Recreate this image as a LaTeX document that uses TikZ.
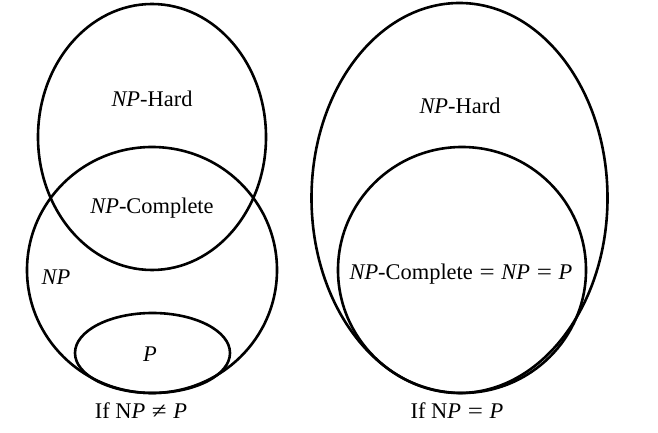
\documentclass[tikz,border=0pt]{standalone}
\usepackage{fontspec}
\setmainfont{Liberation Serif}
\newcommand{\releq}[1]{\hspace{0.3em}\scalebox{1.2}[1]{#1}\hspace{0.3em}}
\begin{document}
\begin{tikzpicture}[x=1bp,y=-1bp,
  ring/.style={draw, line width=2.6bp},
  lbl/.style={font=\fontsize{22.5}{26}\selectfont, inner sep=0pt}]
\useasboundingbox (0,0) rectangle (658,433);
% left diagram
\draw[ring] (152,137) ellipse [x radius=114bp, y radius=133bp];
\draw[ring] (152,270) ellipse [x radius=125bp, y radius=123bp];
\draw[ring] (152.5,353) ellipse [x radius=77.5bp, y radius=40bp];
\node[lbl] (lhard) at (152,99) {\textit{NP}-Hard};
\node[lbl] (lcomp) at (152,208) {\textit{NP}-Complete};
\node[lbl] (lnp) at (56,277) {\textit{NP}};
\node[lbl] (lp) at (150,354) {\textit{P}};
\node[lbl] (lcap) at (141,411) {If N\textit{P}\releq{≠}\textit{P}};
% right diagram
\draw[ring] (459.5,198) ellipse [x radius=148bp, y radius=195bp];
\draw[ring] (462,270) ellipse [x radius=124bp, y radius=123bp];
\node[lbl] (rhard) at (460,106) {\textit{NP}-Hard};
\node[lbl] (rcomp) at (461,274) {\textit{NP}-Complete\releq{=}\textit{NP}\releq{=}\textit{P}};
\node[lbl] (rcap) at (457,411) {If N\textit{P}\releq{=}\textit{P}};
\end{tikzpicture}
\end{document}
